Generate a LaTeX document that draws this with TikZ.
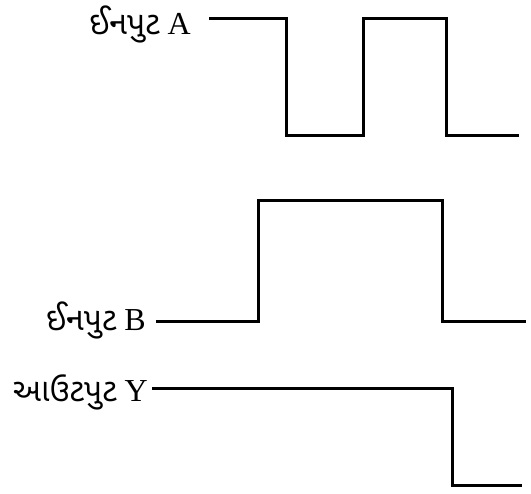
\documentclass[tikz,border=0pt]{standalone}
\usepackage{fontspec}
\setmainfont{Liberation Serif}
\newfontfamily\gujfont[Script=Gujarati]{Noto Sans Gujarati UI}
\usetikzlibrary{calc}
\tikzstyle{wave}=[line width=3pt, line cap=rect, line join=miter]
\tikzstyle{lbl}=[inner sep=0pt, anchor=base east, font=\fontsize{32}{38}\selectfont]
\begin{document}
\begin{tikzpicture}[x=1pt,y=-1pt]
	\useasboundingbox (0,0) rectangle (531,494);
	% labels
	\node[lbl] (inA) at (191,35) {{\gujfont ઈનપુટ} A};
	\node[lbl] (inB) at (146,331) {{\gujfont ઈનપુટ} B};
	\node[lbl] (outY) at (148,402) {{\gujfont આઉટપુટ} Y};
	% input A
	\draw[wave] (210,19) -- (286,19) -- (286,136) -- (363,136) -- (363,19) -- (446,19) -- (446,136) -- (517,136);
	% input B
	\draw[wave] (157,322) -- (258,322) -- (258,201) -- (442,201) -- (442,322) -- (524,322);
	% output Y
	\draw[wave] (153,389) -- (452,389) -- (452,486) -- (520,486);
\end{tikzpicture}
\end{document}
